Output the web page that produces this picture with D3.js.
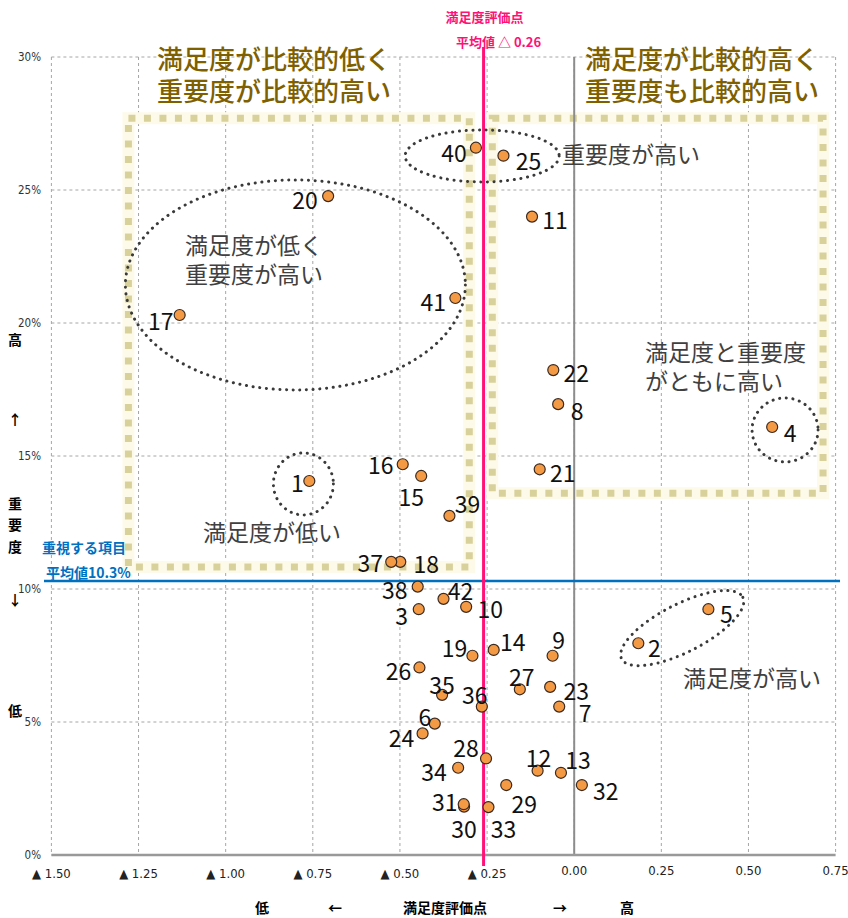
<!DOCTYPE html>
<html>
<head>
<meta charset="utf-8">
<script src="https://cdn.jsdelivr.net/npm/d3@7"></script>
<style>
body { margin: 0; background: #fff; }
text { font-family: "Noto Sans CJK JP", sans-serif; }
</style>
</head>
<body>
<script>
// item number, satisfaction score (x), importance % (y)
const ids = [1,2,3,4,5,6,7,8,9,10,11,12,13,14,15,16,17,18,19,20,21,22,23,24,25,26,27,28,29,30,31,32,33,34,35,36,37,38,39,40,41,42]
const satisfaction = [-0.760,0.184,-0.446,0.568,0.385,-0.400,-0.043,-0.046,-0.062,-0.310,
    -0.121,-0.105,-0.038,-0.231,-0.439,-0.492,-1.132,-0.499,-0.292,-0.706,
    -0.099,-0.060,-0.069,-0.435,-0.203,-0.444,-0.156,-0.253,-0.195,-0.316,
    -0.317,0.022,-0.246,-0.333,-0.379,-0.265,-0.525,-0.449,-0.358,-0.282,-0.341,-0.375]
const importance = [14.06,7.96,9.24,16.09,9.24,4.94,5.58,16.95,7.49,9.33,
    24.0,3.17,3.09,7.71,14.25,14.69,20.30,11.02,7.49,24.77,
    14.50,18.23,6.32,4.57,26.29,7.05,6.23,3.63,2.63,1.82,
    1.91,2.63,1.80,3.28,6.02,5.58,11.02,10.09,12.75,26.59,20.94,9.63]
const satAvg = -0.26
const impAvg = 10.3
const xTicks = [-1.5,-1.25,-1,-0.75,-0.5,-0.25,0,0.25,0.5,0.75]
const yTicks = [0,5,10,15,20,25,30]

// label placement (center offset in px from the point)
const labelOffset = {
    1:[-12,1], 2:[16,4], 3:[-17,6], 4:[18,5], 5:[18,4], 6:[-10,-8], 7:[26,5], 8:[19,6],
    9:[6,-17], 10:[24,1], 11:[23,2], 12:[1,-14], 13:[17,-14], 14:[19,-9], 15:[-10,20],
    16:[-22,0], 17:[-19,5], 18:[26,1], 19:[-18,-9], 20:[-23,3], 21:[23,3], 22:[23,2],
    23:[26,3], 24:[-21,4], 25:[25,4], 26:[-21,3], 27:[2,-13], 28:[-20,-11], 29:[18,18],
    30:[0,21], 31:[-19,-3], 32:[24,5], 33:[15,21], 34:[-24,3], 35:[0,-11], 36:[-7,-13],
    37:[-21,0], 38:[-23,2], 39:[18,-13], 40:[-22,4], 41:[-22,3], 42:[17,-9]
}

const W = 848, H = 918
const x = d3.scaleLinear().domain([-1.5, 0.75]).range([51.4, 835.6])
const y = d3.scaleLinear().domain([0, 30]).range([855, 57])

const svg = d3.select("body").append("svg")
    .attr("width", W)
    .attr("height", H)

// grid
svg.append("g")
    .selectAll("line")
    .data(xTicks)
    .enter()
    .append("line")
    .attr("x1", d => x(d)).attr("x2", d => x(d))
    .attr("y1", y(30)).attr("y2", y(0))
    .attr("stroke", "#a6a6a6")
    .attr("stroke-dasharray", "3,3")
svg.append("g")
    .selectAll("line")
    .data(yTicks)
    .enter()
    .append("line")
    .attr("x1", x(-1.5)).attr("x2", x(0.75))
    .attr("y1", d => y(d)).attr("y2", d => y(d))
    .attr("stroke", "#a6a6a6")
    .attr("stroke-dasharray", "3,3")

// tick labels
svg.append("g")
    .selectAll("text")
    .data(yTicks)
    .enter()
    .append("text")
    .attr("x", 41)
    .attr("y", d => y(d) + 4)
    .attr("text-anchor", "end")
    .attr("font-size", 11.5)
    .attr("fill", "#333")
    .style("font-family", "'Liberation Sans Narrow','DejaVu Sans Condensed',sans-serif")
    .text(d => d + "%")
svg.append("g")
    .selectAll("text")
    .data(xTicks)
    .enter()
    .append("text")
    .attr("x", d => x(d))
    .attr("y", d => d < 0 ? 878 : 875)
    .attr("text-anchor", "middle")
    .attr("font-size", 13)
    .attr("fill", "#222")
    .style("font-family", "'Liberation Sans Narrow','DejaVu Sans Condensed',sans-serif")
    .text(d => d < 0 ? "▲ " + Math.abs(d).toFixed(2) : d.toFixed(2))

// quadrant boxes
const boxes = [
    { x0: -1.279, x1: -0.301, y0: 10.83, y1: 27.7 },
    { x0: -0.235, x1: 0.714, y0: 13.6, y1: 27.7 }
]
const boxG = svg.append("g")
boxG.selectAll("rect.halo")
    .data(boxes)
    .enter()
    .append("rect")
    .attr("class", "halo")
    .attr("x", d => x(d.x0)).attr("y", d => y(d.y1))
    .attr("width", d => x(d.x1) - x(d.x0)).attr("height", d => y(d.y0) - y(d.y1))
    .attr("fill", "none")
    .attr("stroke", "#fdfaea")
    .attr("stroke-width", 12)
boxG.selectAll("rect.dots")
    .data(boxes)
    .enter()
    .append("rect")
    .attr("class", "dots")
    .attr("x", d => x(d.x0)).attr("y", d => y(d.y1))
    .attr("width", d => x(d.x1) - x(d.x0)).attr("height", d => y(d.y0) - y(d.y1))
    .attr("fill", "none")
    .attr("stroke", "#d9d19c")
    .attr("stroke-width", 7)
    .attr("stroke-dasharray", "7,8.5")

// zero line and bottom axis line
svg.append("line")
    .attr("x1", x(0)).attr("x2", x(0))
    .attr("y1", y(30)).attr("y2", y(0))
    .attr("stroke", "#8c8c8c")
    .attr("stroke-width", 2)
svg.append("line")
    .attr("x1", x(-1.5)).attr("x2", x(0.75))
    .attr("y1", y(0)).attr("y2", y(0))
    .attr("stroke", "#999")
    .attr("stroke-width", 2.5)

// importance average
svg.append("line")
    .attr("x1", 44).attr("x2", 840)
    .attr("y1", y(impAvg)).attr("y2", y(impAvg))
    .attr("stroke", "#0070c0")
    .attr("stroke-width", 2.5)
svg.append("text")
    .attr("x", 42).attr("y", 553)
    .attr("font-size", 14).attr("font-weight", "bold")
    .attr("fill", "#0070c0")
    .text("重視する項目")
svg.append("text")
    .attr("x", 46).attr("y", y(impAvg) - 3)
    .attr("font-size", 14).attr("font-weight", "bold")
    .attr("fill", "#0070c0")
    .text("平均値10.3%")

// satisfaction average
svg.append("line")
    .attr("x1", x(satAvg)).attr("x2", x(satAvg))
    .attr("y1", 47).attr("y2", 866)
    .attr("stroke", "#ff1177")
    .attr("stroke-width", 3)
svg.append("text")
    .attr("x", x(satAvg) + 1).attr("y", 22)
    .attr("text-anchor", "middle")
    .attr("font-size", 13).attr("font-weight", "bold")
    .attr("fill", "#ff1177")
    .text("満足度評価点")
svg.append("text")
    .attr("x", x(satAvg) + 15).attr("y", 47)
    .attr("text-anchor", "middle")
    .attr("font-size", 13).attr("font-weight", "bold")
    .attr("fill", "#ff1177")
    .text("平均値 △ 0.26")

// dotted ellipses
const ellipses = [
    { cx: -0.264, cy: 26.28, rx: 77, ry: 26, rot: 0 },
    { cx: -0.800, cy: 21.43, rx: 170, ry: 105, rot: 0 },
    { cx: -0.777, cy: 13.95, rx: 30, ry: 31, rot: 0 },
    { cx: 0.605, cy: 15.98, rx: 33, ry: 32, rot: 0 },
    { cx: 0.310, cy: 8.53, rx: 68, ry: 24, rot: -27 }
]
svg.append("g")
    .selectAll("ellipse")
    .data(ellipses)
    .enter()
    .append("ellipse")
    .attr("transform", d => "translate(" + x(d.cx) + "," + y(d.cy) + ") rotate(" + d.rot + ")")
    .attr("rx", d => d.rx).attr("ry", d => d.ry)
    .attr("fill", "none")
    .attr("stroke", "#3a3a3a")
    .attr("stroke-width", 3)
    .attr("stroke-linecap", "round")
    .attr("stroke-dasharray", "0.1,6.6")

// points
const points = ids.map((id, i) => ({ id: id, sat: satisfaction[i], imp: importance[i] }))
svg.append("g")
    .selectAll("circle")
    .data(points)
    .enter()
    .append("circle")
    .attr("cx", d => x(d.sat))
    .attr("cy", d => y(d.imp))
    .attr("r", 5.5)
    .attr("fill", "#f59a44")
    .attr("stroke", "#3b2a20")
    .attr("stroke-width", 1.2)
svg.append("g")
    .selectAll("text")
    .data(points)
    .enter()
    .append("text")
    .attr("x", d => x(d.sat) + labelOffset[d.id][0])
    .attr("y", d => y(d.imp) + labelOffset[d.id][1])
    .attr("text-anchor", "middle")
    .attr("dominant-baseline", "central")
    .attr("font-size", 23)
    .attr("fill", "#111")
    .text(d => d.id)

// quadrant titles
const titles = [
    { x: 157, lines: ["満足度が比較的低く", "重要度が比較的高い"] },
    { x: 585, lines: ["満足度が比較的高く", "重要度も比較的高い"] }
]
titles.forEach(t => {
    t.lines.forEach((s, i) => {
        svg.append("text")
            .attr("x", t.x).attr("y", 69 + i * 32)
            .attr("font-size", 26)
            .attr("font-weight", 500)
            .attr("fill", "#7f6000")
            .text(s)
    })
})

// notes
const notes = [
    { x: 562, y: 163, lines: ["重要度が高い"] },
    { x: 185, y: 254, lines: ["満足度が低く", "重要度が高い"] },
    { x: 645, y: 361, lines: ["満足度と重要度", "がともに高い"] },
    { x: 203, y: 541, lines: ["満足度が低い"] },
    { x: 683, y: 687, lines: ["満足度が高い"] }
]
notes.forEach(n => {
    n.lines.forEach((s, i) => {
        svg.append("text")
            .attr("x", n.x).attr("y", n.y + i * 29)
            .attr("font-size", 23)
            .attr("fill", "#404040")
            .text(s)
    })
})

// axis captions
const yCaption = [["高", 345], ["↑", 425], ["重", 509], ["要", 530], ["度", 552], ["↓", 605], ["低", 716]]
svg.append("g")
    .selectAll("text")
    .data(yCaption)
    .enter()
    .append("text")
    .attr("x", 15).attr("y", d => d[1])
    .attr("text-anchor", "middle")
    .attr("font-size", 14).attr("font-weight", "bold")
    .attr("fill", "#000")
    .text(d => d[0])
const xCaption = [["低", 262], ["←", 335], ["満足度評価点", 445], ["→", 560], ["高", 627]]
svg.append("g")
    .selectAll("text")
    .data(xCaption)
    .enter()
    .append("text")
    .attr("x", d => d[1]).attr("y", 913)
    .attr("text-anchor", "middle")
    .attr("font-size", 14).attr("font-weight", "bold")
    .attr("fill", "#000")
    .text(d => d[0])
</script>
</body>
</html>
